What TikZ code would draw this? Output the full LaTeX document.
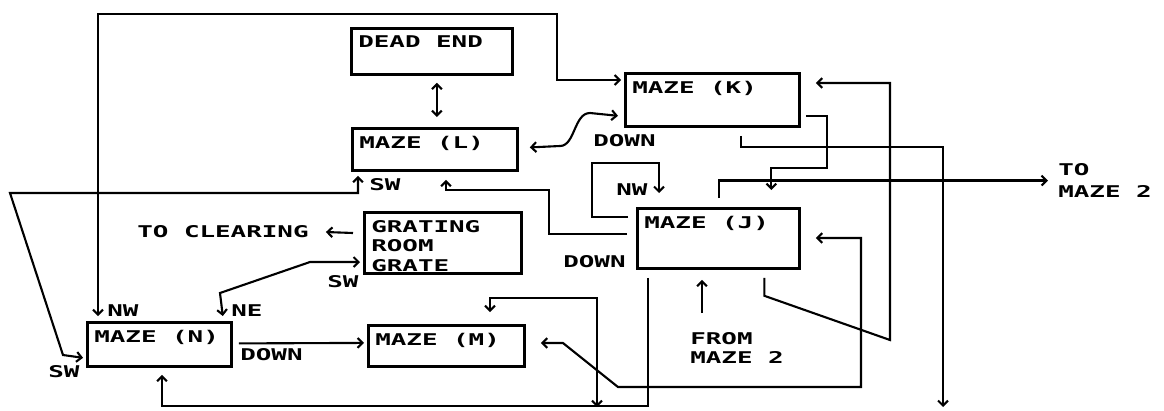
\documentclass[tikz,border=0pt]{standalone}
\usepackage{fontspec}
\newfontfamily\pixface[FakeStretch=1.6]{DejaVu Sans Mono}
\newcommand\pixfont{\pixface\bfseries\fontsize{11.5pt}{14pt}\selectfont}
\usetikzlibrary{arrows.meta,calc}

\tikzset{
  room/.style n args={3}{draw, line width=2pt, anchor=north west, inner sep=0pt,
    minimum width=#1*0.025cm, minimum height=#2*0.025cm,
    label={[roomname]north west:{#3}}},
  roomname/.style={anchor=north west, align=left, inner xsep=0.2cm, inner ysep=0.22cm},
  link/.style={line width=1.5pt},
  tag/.style={anchor=west, inner sep=0pt},
  >={Straight Barb[length=3.5pt,width=7pt]}
}

\begin{document}
\begin{tikzpicture}[x=0.025cm, y=-0.025cm, every node/.style={font=\pixfont}]
    \useasboundingbox (0,0) rectangle (1164,410);

    % Rooms
    \node[room={161}{46}{DEAD END}] (dead) at (350,27) {};
    \node[room={174}{53}{MAZE (K)}] (K) at (624,72) {};
    \node[room={165}{42}{MAZE (L)}] (L) at (351,127) {};
    \node[room={157}{61}{GRATING\\ROOM\\GRATE}] (grate) at (363,211) {};
    \node[room={162}{60}{MAZE (J)}] (J) at (636,207) {};
    \node[room={144}{44}{MAZE (N)}] (N) at (86,321) {};
    \node[room={156}{41}{MAZE (M)}] (M) at (367,324) {};

    % Exits off the page
    \coordinate (kexit) at (943,407);
    \coordinate (mexit) at (597,407);
    \node[tag] (clearing) at (137,232) {TO CLEARING};
    \node[tag, anchor=north west, align=left] (toMaze) at (1058,163) {TO\\[2pt]MAZE 2};
    \node[tag, anchor=north west, align=left] (fromMaze) at (690,332) {FROM\\MAZE 2};

    % Direction tags
    \node[tag] (nwN) at (107,311) {NW};
    \node[tag] (neN) at (231,311) {NE};
    \node[tag] (swN) at (48,372) {SW};
    \node[tag] (swL) at (369,185) {SW};
    \node[tag] (swG) at (327,282) {SW};
    \node[tag] (downK) at (593,141) {DOWN};
    \node[tag] (nwJ) at (616,190) {NW};
    \node[tag] (downJ) at (563,262) {DOWN};
    \node[tag] (downN) at (240,355) {DOWN};

    % Passages
    \draw[link, <->] ($(N.north west)+(12,-5)$) -- (98,14) -| (557,80) -- ($(K.north west)+(-3,8)$);
    \draw[link, <->] ($(L.south west)+(7,4)$) |- (10,193) -- (63,355) -- ($(N.south west)+(-3,-10)$);
    \draw[link, <->] ($(dead.south)+(5,7)$) -- ($(L.north)+(2,-10)$);
    \draw[link, <->] ($(L.east)+(11,-2)$) -- (560,146) .. controls (575,146) and (574,113) .. (590,113) -- ($(K.south west)+(-6,-12)$);
    \draw[link, ->] ($(K.south)+(29,8)$) |- (943,147) -- (kexit);
    \draw[link, ->] ($(K.south east)+(5,-12)$) -| (827,168) -| ($(J.north)+(53,-17)$);
    \draw[link, ->] ($(J.north)+(1,-9)$) |- ($(toMaze.west)+(-10,0)$);
    \draw[link, ->] ($(J.south)+(46,8)$) -- ($(J.south)+(46,26)$) -- (890,340) |- ($(K.north east)+(15,11)$);
    \draw[link, <->] ($(M.north east)+(15,19)$) -- (563,343) -- (618,387) -| (861,238) -- ($(J.north east)+(15,31)$);
    \draw[link, ->] ($(J.south west)+(12,8)$) -- ($(J.south west)+(12,136)$) -| ($(N.south west)+(76,7)$);
    \draw[link, <->] ($(M.north west)+(123,-12)$) |- (597,298) -- (mexit);
    \draw[link, ->] ($(J.north west)+(-9,27)$) -| (549,190) -| ($(L.south west)+(95,8)$);
    \draw[link, ->] ($(J.north west)+(-8,10)$) -| (592,163) -| ($(J.north west)+(23,-14)$);
    \draw[link, ->] ($(grate.north west)+(-10,22)$) -- ($(clearing.east)+(17,0)$);
    \draw[link, <->] ($(N.north east)+(-10,-5)$) -- (220,293) -- (310,262) -- ($(grate.north west)+(-3,51)$);
    \draw[link, ->] ($(N.east)+(6,-1)$) -- ($(M.west)+(-3,-3)$);
    \draw[link, ->] ($(fromMaze.north west)+(12,-19)$) -- ($(J.south west)+(66,10)$);
\end{tikzpicture}
\end{document}
